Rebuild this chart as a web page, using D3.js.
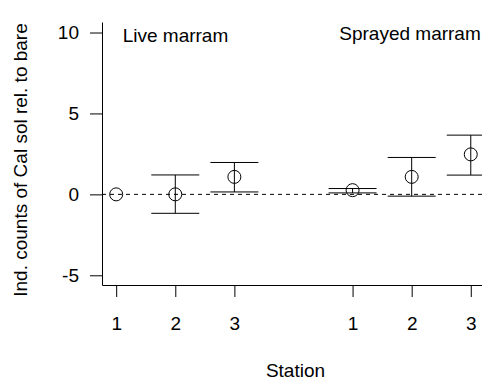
<!doctype html>
<html>
<head>
<meta charset="utf-8">
<script src="https://d3js.org/d3.v7.min.js"></script>
<style>
  body { margin: 0; background: #fff; }
  svg { display: block; font-family: "Liberation Sans", Arial, sans-serif; }
  .axis text { font-size: 19px; fill: #000; }
  .axis path, .axis line { stroke: #000; stroke-width: 1; }
  .lab { font-size: 19px; fill: #000; }
</style>
</head>
<body>
<script>
// station positions on the x axis (gap between the two treatments)
var positions = [1, 2, 3, 5, 6, 7];
var stationLabels = ["1", "2", "3", "1", "2", "3"];
var means = [0, 0, 1.08, 0.26, 1.08, 2.47];
var upper = [0, 1.2, 1.97, 0.36, 2.28, 3.66];
var lower = [0, -1.17, 0.15, 0.09, -0.11, 1.19];
var yTicks = [-5, 0, 5, 10];
var panels = [{t: "Live marram", x: 1.11, y: 9.42}, {t: "Sprayed marram", x: 4.775, y: 9.54}];

var width = 482, height = 381;
var mLeft = 102, mTop = 22, mBottom = 285;

var svg = d3.select("body").append("svg")
  .attr("width", width).attr("height", height);

var x = d3.scaleLinear().domain([0.76, 7.19]).range([mLeft, width]);
var y = d3.scaleLinear().domain([-5.6, 10.65]).range([mBottom, mTop]);

var pts = positions.map(function(p, i) {
  return {x: p, m: means[i], hi: upper[i], lo: lower[i]};
});

// reference line at zero
svg.append("line")
  .attr("x1", x(0.76)).attr("x2", x(7.19))
  .attr("y1", y(0)).attr("y2", y(0))
  .attr("stroke", "#000").attr("stroke-dasharray", "4,4");

var bars = pts.filter(function(d) { return d.hi !== d.lo; });
var cap = 24;

svg.selectAll(".vbar").data(bars).enter().append("line")
  .attr("class", "vbar")
  .attr("x1", function(d) { return x(d.x); })
  .attr("x2", function(d) { return x(d.x); })
  .attr("y1", function(d) { return y(d.lo); })
  .attr("y2", function(d) { return y(d.hi); })
  .attr("stroke", "#000");

["hi", "lo"].forEach(function(k) {
  svg.selectAll(".cap-" + k).data(bars).enter().append("line")
    .attr("class", "cap-" + k)
    .attr("x1", function(d) { return x(d.x) - cap; })
    .attr("x2", function(d) { return x(d.x) + cap; })
    .attr("y1", function(d) { return y(d[k]); })
    .attr("y2", function(d) { return y(d[k]); })
    .attr("stroke", "#000");
});

svg.selectAll(".pt").data(pts).enter().append("circle")
  .attr("class", "pt")
  .attr("cx", function(d) { return x(d.x); })
  .attr("cy", function(d) { return y(d.m); })
  .attr("r", 6.5)
  .attr("fill", "none").attr("stroke", "#000");

// axes
svg.append("g").attr("class", "axis")
  .attr("transform", "translate(" + mLeft + ",0)")
  .call(d3.axisLeft(y).tickValues(yTicks).tickFormat(function(d) { return String(d); })
    .tickSize(12).tickSizeOuter(0).tickPadding(11));

svg.append("g").attr("class", "axis")
  .attr("transform", "translate(0," + mBottom + ")")
  .call(d3.axisBottom(x).tickValues(positions)
    .tickFormat(function(d, i) { return stationLabels[i]; })
    .tickSize(12).tickSizeOuter(0).tickPadding(20));

svg.selectAll(".panel").data(panels).enter().append("text")
  .attr("class", "lab")
  .attr("x", function(d) { return x(d.x); })
  .attr("y", function(d) { return y(d.y); })
  .text(function(d) { return d.t; });

svg.append("text").attr("class", "lab")
  .attr("x", 295.5).attr("y", 377)
  .attr("text-anchor", "middle")
  .text("Station");

svg.append("text").attr("class", "lab")
  .attr("transform", "translate(27,160) rotate(-90)")
  .attr("text-anchor", "middle")
  .text("Ind. counts of Cal sol rel. to bare");
</script>
</body>
</html>
